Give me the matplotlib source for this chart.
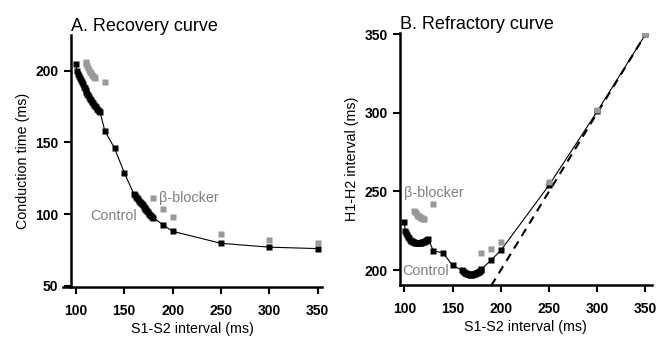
import matplotlib
matplotlib.use("Agg")
import matplotlib.pyplot as plt

plt.rcParams["font.family"] = ["Liberation Sans", "DejaVu Sans"]

# A. recovery curve (conduction time, ms)
rec_ctrl_x = [100, 101, 102, 103, 104, 105, 106, 107, 108, 109, 110, 111, 112, 113,
              114, 115, 116, 117, 118, 119, 120, 121, 122, 123, 124, 125,
              130, 140, 150,
              160, 161, 162, 163, 164, 165, 166, 167, 168, 169, 170, 171, 172,
              173, 174, 175, 176, 177, 178, 179, 180,
              190, 200, 250, 300, 350]
rec_ctrl_y = [205, 200, 198, 196.5, 195, 193.5, 192, 190.5, 189, 187.7, 186.4, 185.2,
              184, 182.8, 181.6, 180.5, 179.4, 178.4, 177.4, 176.4, 175.5, 174.6,
              173.7, 172.8, 172, 171.2,
              158, 146, 129,
              114, 113, 112, 111, 110.2, 109.3, 108.5, 107.6, 106.8, 106, 105.2,
              104.4, 103.6, 102.8, 102, 101.2, 100.4, 99.7, 99, 98.3, 97.6,
              92.5, 88, 79.6, 76.9, 75.9]
rec_beta_x = [110, 111, 112, 113, 114, 115, 116, 117, 118, 119, 120,
              130, 180, 190, 200, 250, 300, 350]
rec_beta_y = [206.5, 205, 203.5, 202, 200.7, 199.5, 198.4, 197.4, 196.5, 195.7, 195,
              192, 111, 103.5, 98, 86, 82, 79.6]

# B. refractory curve (H1-H2 interval, ms)
ref_ctrl_x = [100, 101, 102, 103, 104, 105, 106, 107, 108, 109, 110, 111, 112, 113,
              114, 115, 116, 117, 118, 119, 120, 121, 122, 123, 124, 125,
              130, 140, 150,
              160, 161, 162, 163, 164, 165, 166, 167, 168, 169, 170, 171, 172,
              173, 174, 175, 176, 177, 178, 179, 180,
              190, 200, 250, 300, 350]
ref_ctrl_y = [230.7, 225, 223.5, 222.2, 221.1, 220.2, 219.4, 218.8, 218.3, 217.9,
              217.6, 217.4, 217.3, 217.2, 217.2, 217.3, 217.4, 217.5, 217.7, 217.9,
              218.1, 218.4, 218.7, 219, 219.4, 219.8,
              212.2, 211, 203,
              199.8, 199.2, 198.7, 198.3, 197.9, 197.6, 197.4, 197.2, 197.1, 197.1,
              197.1, 197.2, 197.4, 197.6, 197.9, 198.2, 198.6, 199, 199.5, 200, 200.6,
              206.3, 212.5, 254, 301, 350]
ref_beta_x = [110, 111, 112, 113, 114, 115, 116, 117, 118, 119, 120,
              130, 180, 190, 200, 250, 300, 350]
ref_beta_y = [237.5, 236.8, 236, 235.3, 234.7, 234.1, 233.6, 233.2, 232.9, 232.7, 232.6,
              242.3, 211, 213.6, 218, 256, 302, 350]
identity = [190, 350]

gray = "#999999"
xticks = [100, 150, 200, 250, 300, 350]

fig = plt.figure(figsize=(6.62, 3.37), dpi=100)
axA = fig.add_axes([0.0956, 0.148, 0.3908, 0.748])
axB = fig.add_axes([0.6042, 0.1543, 0.3802, 0.7463])


def style(ax):
    for s in ["top", "right"]:
        ax.spines[s].set_visible(False)
    for s in ["left", "bottom"]:
        ax.spines[s].set_linewidth(1.8)
    ax.tick_params(direction="out", length=5, width=1.5, labelsize=10, pad=4)
    ax.tick_params(axis="x", pad=7)
    for lab in ax.get_xticklabels() + ax.get_yticklabels():
        lab.set_fontweight("bold")
    ax.set_xlabel("S1-S2 interval (ms)", fontsize=10.3, labelpad=3)


# panel A
axA.plot(rec_ctrl_x, rec_ctrl_y, color="black", lw=0.8, marker="s", ms=3.8, mec="none")
axA.plot(rec_beta_x, rec_beta_y, ls="none", color=gray, marker="s", ms=3.8, mec="none")
axA.set_xlim(87, 354.5)
axA.set_ylim(49, 225)
axA.spines["left"].set_position(("data", 95))
axA.set_xticks(xticks)
axA.set_yticks([50, 100, 150, 200])
axA.set_ylabel("Conduction time (ms)", fontsize=10.3, labelpad=4)
axA.text(186, 111, "β-blocker", color="#808080", fontsize=10.4, va="center")
axA.text(115, 98.5, "Control", color="#808080", fontsize=10.4, va="center")
axA.set_title("A. Recovery curve", fontsize=13, loc="left", x=0.03, pad=3)
style(axA)

# panel B
axB.plot(identity, identity, color="black", lw=1.5, ls=(0, (4, 3)))
axB.plot(ref_ctrl_x, ref_ctrl_y, color="black", lw=0.8, marker="s", ms=3.8, mec="none")
axB.plot(ref_beta_x, ref_beta_y, ls="none", color=gray, marker="s", ms=3.8, mec="none")
axB.set_xlim(95.5, 356.4)
axB.set_ylim(190.5, 350.5)
axB.set_xticks(xticks)
axB.set_yticks([200, 250, 300, 350])
axB.set_ylabel("H1-H2 interval (ms)", fontsize=10.3, labelpad=4)
axB.text(100, 249, "β-blocker", color="#808080", fontsize=10.4, va="center")
axB.text(97.5, 199.4, "Control", color="#808080", fontsize=10.4, va="center")
axB.set_title("B. Refractory curve", fontsize=13, loc="left", pad=3)
style(axB)

fig.savefig("out.png", dpi=100)
